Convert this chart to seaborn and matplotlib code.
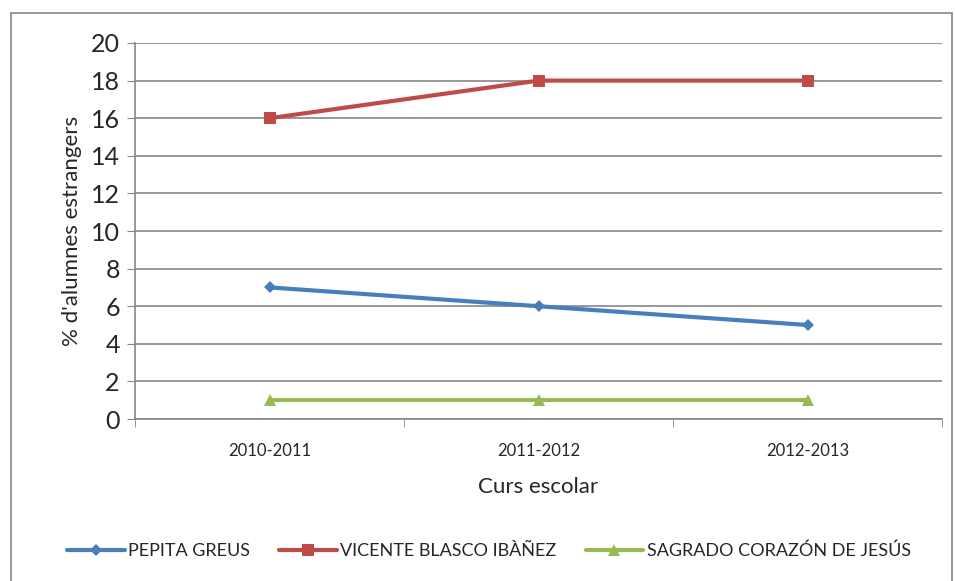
import pandas as pd
import numpy as np
import matplotlib
matplotlib.use("Agg")
import matplotlib.pyplot as plt
import seaborn as sns

cursos = ['2010-2011', '2011-2012', '2012-2013']
pepita = [7, 6, 5]
vicente = [16, 18, 18]
sagrado = [1, 1, 1]
escoles = ['PEPITA GREUS', 'VICENTE BLASCO IBÀÑEZ', 'SAGRADO CORAZÓN DE JESÚS']
colors = ['#4A7EBB', '#BE4B48', '#98B954']
markers = ['D', 's', '^']

df = pd.DataFrame({
    'Curs': cursos * 3,
    'x': list(range(3)) * 3,
    'Valor': pepita + vicente + sagrado,
    'Escola': [escoles[0]] * 3 + [escoles[1]] * 3 + [escoles[2]] * 3,
})

sns.set_style("white")
plt.rcParams['font.family'] = ['Lato', 'DejaVu Sans']

fig = plt.figure(figsize=(9.55, 5.81), dpi=100)
ax = fig.add_axes([0.1414, 0.2788, 0.845, 0.6472])

sns.lineplot(data=df, x='x', y='Valor', hue='Escola', style='Escola',
             palette=colors, markers=markers, dashes=False, linewidth=3,
             markersize=8, markeredgewidth=0, ax=ax, legend=False)
# diamond a bit smaller
ax.lines[0].set_markersize(6.5)

ax.set_xlim(-0.5, 2.5)
ax.set_ylim(0, 20)
ax.set_yticks(range(0, 21, 2))
ax.tick_params(axis='y', labelsize=18, length=6, color='#868686', direction='out', left=True, pad=5)
ax.set_xticks(range(3))
ax.set_xticklabels(cursos, fontsize=12)
ax.tick_params(axis='x', length=0, pad=17)
ax.set_xticks([-0.5, 0.5, 1.5, 2.5], minor=True)
ax.tick_params(axis='x', which='minor', length=6, color='#868686', direction='out', bottom=True)
ax.grid(axis='y', color='#868686', linewidth=1.2)
ax.set_axisbelow(True)
for s in ['top', 'right']:
    ax.spines[s].set_visible(False)
for s in ['left', 'bottom']:
    ax.spines[s].set_color('#868686')
    ax.spines[s].set_linewidth(1.2)

ax.set_xlabel('Curs escolar', fontsize=16, labelpad=13)
ax.set_ylabel("% d'alumnes estrangers", fontsize=16, labelpad=6)

handles = [plt.Line2D([], [], color=c, marker=m, linewidth=3, markersize=ms, markeredgewidth=0)
           for c, m, ms in zip(colors, markers, [6.5, 8, 8])]
fig.legend(handles, escoles, loc='center', bbox_to_anchor=(0.512, 0.052), ncol=3,
           frameon=False, fontsize=13, handlelength=3.2, columnspacing=1.6, handletextpad=0.2)

fig.patches.append(plt.Rectangle((0.011, -0.01), 0.986, 0.988, transform=fig.transFigure,
                                 fill=False, edgecolor='#868686', linewidth=1.2))

fig.savefig('out.png', dpi=100)
